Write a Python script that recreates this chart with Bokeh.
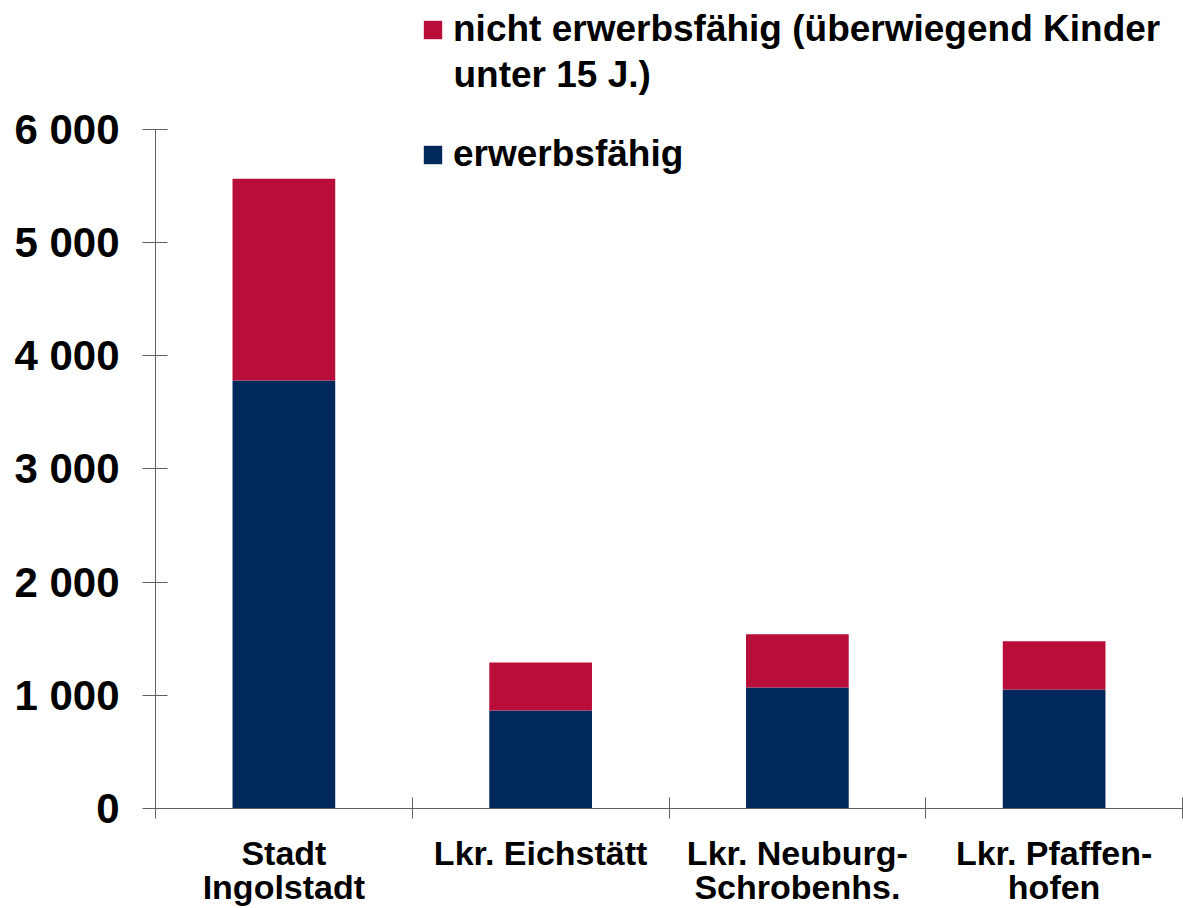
from bokeh.plotting import figure
from bokeh.models import Legend, LegendItem, FixedTicker, ColumnDataSource, Range1d, Label
from bokeh.embed import file_html
from bokeh.resources import INLINE

categories = ["Stadt\nIngolstadt", "Lkr. Eichstätt", "Lkr. Neuburg-\nSchrobenhs.", "Lkr. Pfaffen-\nhofen"]
erwerbsfaehig = [3780, 866, 1069, 1051]
nicht_erwerbsfaehig = [1782, 423, 470, 426]
series_names = ["erwerbsfähig", "nicht erwerbsfähig (überwiegend Kinder", "unter 15 J.)"]
y_ticks = [0, 1000, 2000, 3000, 4000, 5000, 6000]
y_tick_labels = ["0", "1 000", "2 000", "3 000", "4 000", "5 000", "6 000"]

colors = ["#00285A", "#BA0E3A"]
FONT = "Liberation Sans"

W, H = 1183, 908
LEFT, BOTTOM = 155, 98
AXIS_TOP_PX = 129          # pixel row of the top tick
frame_h = H - BOTTOM
y_end = y_ticks[-1] * frame_h / (frame_h - AXIS_TOP_PX)   # room above the axis for the legend

n = len(categories)
x_pos = [i + 0.5 for i in range(n)]
totals = [a + b for a, b in zip(erwerbsfaehig, nicht_erwerbsfaehig)]
src = ColumnDataSource(dict(x=x_pos, e=erwerbsfaehig, t=totals))

p = figure(width=W, height=H, output_backend="svg", toolbar_location=None,
           x_range=Range1d(0, n), y_range=Range1d(0, y_end),
           min_border_left=LEFT, min_border_right=1, min_border_top=0, min_border_bottom=BOTTOM)
p.title.visible = False
p.outline_line_color = None
p.xgrid.visible = False
p.ygrid.visible = False

r_e = p.vbar(x="x", bottom=0, top="e", width=0.4, source=src, fill_color=colors[0], line_color=None)
r_n = p.vbar(x="x", bottom="e", top="t", width=0.4, source=src, fill_color=colors[1], line_color=None)

axis_col = "#606060"
ya = p.yaxis[0]
ya.ticker = FixedTicker(ticks=y_ticks)
ya.major_label_overrides = {t: l for t, l in zip(y_ticks, y_tick_labels)}
ya.bounds = (y_ticks[0], y_ticks[-1])
ya.major_tick_in = 12
ya.major_tick_out = 13
ya.minor_tick_line_color = None
ya.axis_line_color = axis_col
ya.major_tick_line_color = axis_col
ya.major_label_standoff = 23
ya.major_label_text_font = FONT
ya.major_label_text_font_style = "bold"
ya.major_label_text_font_size = "42px"
ya.major_label_text_color = "black"

xa = p.xaxis[0]
xa.ticker = FixedTicker(ticks=x_pos, minor_ticks=list(range(n + 1)))
xa.major_label_overrides = {x: c for x, c in zip(x_pos, categories)}
xa.major_tick_in = 0
xa.major_tick_out = 0
xa.minor_tick_in = 11
xa.minor_tick_out = 10
xa.minor_tick_line_color = axis_col
xa.axis_line_color = axis_col
xa.major_label_standoff = 15
xa.major_label_text_font = FONT
xa.major_label_text_font_style = "bold"
xa.major_label_text_font_size = "34px"
xa.major_label_text_color = "black"
xa.major_label_text_line_height = 0.9

legend_kw = dict(orientation="vertical", border_line_color=None, background_fill_alpha=0,
                 padding=0, margin=0, spacing=0,
                 glyph_width=23, glyph_height=23, label_standoff=9,
                 label_text_font=FONT, label_text_font_style="bold",
                 label_text_font_size="37px", label_text_color="black",
                 label_text_line_height=1.1)
legend_n = Legend(items=[LegendItem(label=series_names[1], renderers=[r_n])],
                  location=(266, 758), **legend_kw)
legend_e = Legend(items=[LegendItem(label=series_names[0], renderers=[r_e])],
                  location=(266, 633), **legend_kw)
p.add_layout(legend_n, "center")
p.add_layout(legend_e, "center")

cont = Label(x=298, y=734, x_units="screen", y_units="screen", text=series_names[2],
             text_font=FONT, text_font_style="bold", text_font_size="37px",
             text_color="black", text_baseline="alphabetic", text_align="left")
p.add_layout(cont, "center")

open("out.html", "w").write(file_html(p, INLINE))
